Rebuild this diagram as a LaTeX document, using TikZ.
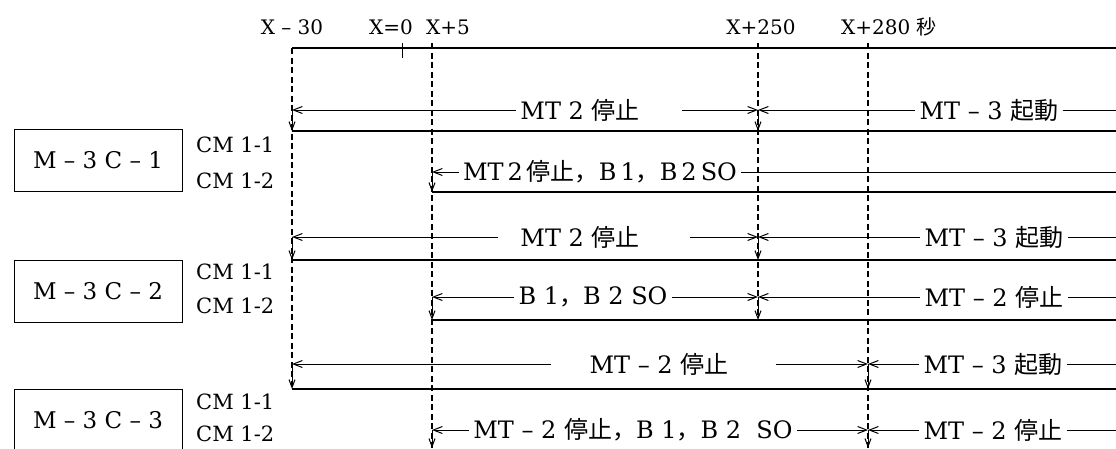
\documentclass[tikz,border=0pt]{standalone}
\usepackage{fontspec}
\setmainfont{DejaVu Serif}
\newfontfamily\jpfont{Noto Sans CJK JP}
\usepackage{tikz}
\usetikzlibrary{arrows.meta, positioning, calc}

\newcommand{\ja}[1]{{\jpfont #1}}

\tikzset{
  tline/.style={line width=1.1pt, dash pattern=on 6pt off 3.5pt},
  bus/.style={line width=1.6pt},
  plain/.style={line width=1pt},
  span/.style={line width=1pt, -{Straight Barb[length=9pt, width=7pt]}},
  drop/.style={line width=1pt, -{Straight Barb[length=8pt, width=6pt]}},
  evt/.style={font=\fontsize{24}{27}\selectfont, inner sep=4pt},
  tlbl/.style={font=\fontsize{20}{23}\selectfont, inner sep=0pt},
  cmlbl/.style={font=\fontsize{21}{24}\selectfont, anchor=west, inner sep=0pt},
  unitbox/.style={draw, line width=1pt, minimum width=168pt, minimum height=62pt,
    inner sep=0pt, font=\fontsize{23}{26}\selectfont},
}

\begin{document}
\begin{tikzpicture}[x=1pt, y=-1pt]
  \useasboundingbox (0,0) rectangle (1116,448);
  % time marks and the right border
  \foreach \n/\x in {m30/292, z/402, p5/432, p250/758, p280/868, edge/1116}
    \coordinate (\n) at (\x,0);
  % signal and bus levels (unit, channel)
  \foreach \n/\y in {s11/110, b11/131, s12/172, b12/192,
                     s21/237, b21/260, s22/297, b22/320,
                     s31/364, b31/389, s32/430, b32/448}
    \coordinate (\n) at (0,\y);
  \coordinate (top) at (0,48);
  \coordinate (tick) at (0,43);
  \coordinate (bot) at (0,448);

  % Time axis
  \node[tlbl] (t-m30) at (292,27) {X -- 30};
  \node[tlbl] (t-z) at (391,27) {X=0};
  \node[tlbl] (t-p5) at (448,27) {X+5};
  \node[tlbl] (t-p250) at (761,27) {X+250};
  \node[tlbl] (t-p280) at (889,27) {X+280 \ja{秒}};
  \draw[bus] (m30 |- top) -- (edge |- top);
  \draw[plain] (z |- tick) -- ++(0,15);
  \draw[tline] (m30 |- top) -- (m30 |- b31);
  \draw[tline] (p5 |- tick) -- (p5 |- bot);
  \draw[tline] (p250 |- tick) -- (p250 |- b22);
  \draw[tline] (p280 |- tick) -- (p280 |- bot);

  % Units and channels
  \node[unitbox] (u1) at (98,160) {M -- 3 C -- 1};
  \node[unitbox] (u2) at (98,291) {M -- 3 C -- 2};
  \node[unitbox] (u3) at (98,420) {M -- 3 C -- 3};
  \node[cmlbl] (c11) at (196,145) {CM 1-1};
  \node[cmlbl] (c12) at (196,181) {CM 1-2};
  \node[cmlbl] (c21) at (196,272) {CM 1-1};
  \node[cmlbl] (c22) at (196,306) {CM 1-2};
  \node[cmlbl] (c31) at (196,402) {CM 1-1};
  \node[cmlbl] (c32) at (196,434) {CM 1-2};

  % M-3C-1
  \node[evt] (e11a) at (580,110) {MT 2 \ja{停止}};
  \node[evt] (e11b) at (989,110) {MT -- 3 \ja{起動}};
  \draw[span] (e11a.west) -- (m30 |- s11);
  \draw[span, shorten <=38pt] (e11a.east) -- (p250 |- s11);
  \draw[span] (e11b.west) -- (p250 |- s11);
  \draw[plain] (e11b.east) -- (edge |- s11);
  \node[evt] (e12a) at (600,172) {MT\,2\,\ja{停止，}B\,1\ja{，}B\,2\,SO};
  \draw[span] (e12a.west) -- (p5 |- s12);
  \draw[plain] (e12a.east) -- (edge |- s12);

  % M-3C-2
  \node[evt] (e21a) at (580,237) {MT 2 \ja{停止}};
  \node[evt] (e21b) at (994,237) {MT -- 3 \ja{起動}};
  \draw[span, shorten <=18pt] (e21a.west) -- (m30 |- s21);
  \draw[span, shorten <=46pt] (e21a.east) -- (p250 |- s21);
  \draw[span] (e21b.west) -- (p250 |- s21);
  \draw[plain] (e21b.east) -- (edge |- s21);
  \node[evt] (e22a) at (593,297) {B 1\ja{，}B 2 SO};
  \node[evt] (e22b) at (994,297) {MT -- 2 \ja{停止}};
  \draw[span] (e22a.west) -- (p5 |- s22);
  \draw[span] (e22a.east) -- (p250 |- s22);
  \draw[span] (e22b.west) -- (p250 |- s22);
  \draw[plain] (e22b.east) -- (edge |- s22);

  % M-3C-3
  \node[evt] (e31a) at (659,364) {MT -- 2 \ja{停止}};
  \node[evt] (e31b) at (993,364) {MT -- 3 \ja{起動}};
  \draw[span, shorten <=34pt] (e31a.west) -- (m30 |- s31);
  \draw[span, shorten <=43pt] (e31a.east) -- (p280 |- s31);
  \draw[span] (e31b.west) -- (p280 |- s31);
  \draw[plain] (e31b.east) -- (edge |- s31);
  \node[evt] (e32a) at (633,430) {MT -- 2 \ja{停止，}B 1\ja{，}B 2 \ SO};
  \node[evt] (e32b) at (993,430) {MT -- 2 \ja{停止}};
  \draw[span] (e32a.west) -- (p5 |- s32);
  \draw[span] (e32a.east) -- (p280 |- s32);
  \draw[span] (e32b.west) -- (p280 |- s32);
  \draw[plain] (e32b.east) -- (edge |- s32);

  % drops onto the buses
  \foreach \t/\s/\b in {m30/s11/b11, p250/s11/b11, p5/s12/b12,
                        m30/s21/b21, p250/s21/b21, p5/s22/b22, p250/s22/b22,
                        m30/s31/b31, p280/s31/b31, p5/s32/b32, p280/s32/b32}
    \draw[drop] (\t |- \s) -- (\t |- \b);
  % buses
  \foreach \t/\b in {m30/b11, p5/b12, m30/b21, p5/b22, m30/b31}
    \draw[bus] (\t |- \b) -- (edge |- \b);
\end{tikzpicture}
\end{document}
